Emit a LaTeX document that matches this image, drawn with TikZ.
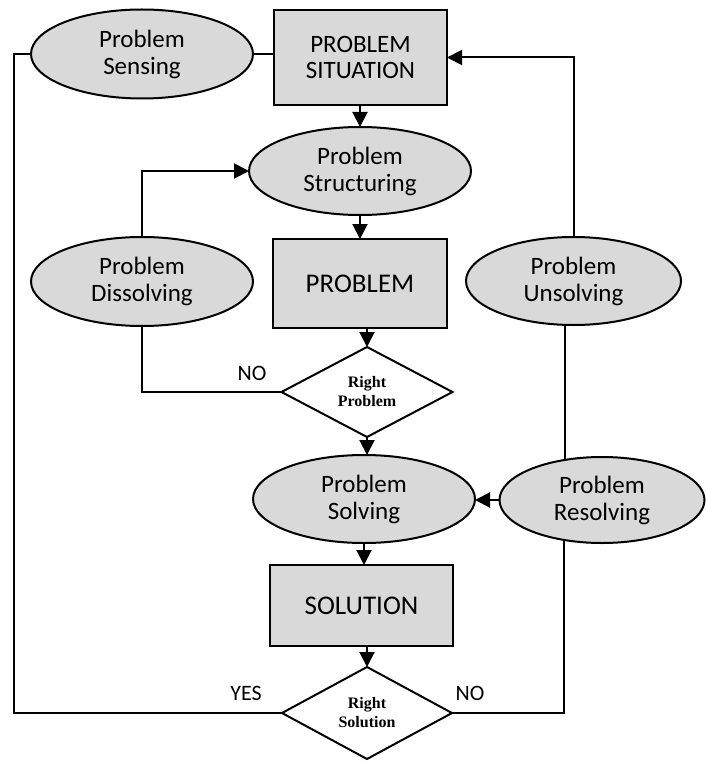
\documentclass[tikz,border=0pt]{standalone}
\usepackage{fontspec}
\setmainfont{Carlito}
\newfontfamily\diafont{Liberation Serif}
\usetikzlibrary{shapes.geometric,arrows.meta}
\definecolor{boxgray}{HTML}{D9D9D9}
\tikzset{
  every node/.style={inner sep=0pt, outer sep=0pt},
  procbox/.style={draw=black, line width=2.6pt, fill=boxgray, rectangle, align=center,
    font=\fontsize{25}{26}\selectfont},
  bigbox/.style={procbox, font=\fontsize{27}{28}\selectfont},
  oval/.style={draw=black, line width=2pt, fill=boxgray, ellipse, align=center,
    font=\fontsize{25}{27}\selectfont},
  decide/.style={draw=black, line width=2pt, fill=white, diamond, aspect=1.9, align=center,
    font=\diafont\bfseries\fontsize{16}{19}\selectfont},
  conn/.style={line width=2pt},
  arr/.style={conn, -{Triangle[length=15pt,width=15pt]}},
  lbl/.style={font=\fontsize{22}{24}\selectfont},
}
\begin{document}
\begin{tikzpicture}[x=1pt,y=-1pt]
\useasboundingbox (0,0) rectangle (705,762);
% nodes
\node[procbox, minimum width=173pt, minimum height=95pt] (sit) at (360.5,57.5) {PROBLEM\\SITUATION};
\node[oval, minimum width=222pt, minimum height=89pt] (sens) at (142,54) {Problem\\Sensing};
\node[oval, minimum width=222pt, minimum height=88pt] (struct) at (360,171) {Problem\\Structuring};
\node[bigbox, minimum width=174pt, minimum height=89pt] (prob) at (360,283.5) {PROBLEM};
\node[oval, minimum width=222pt, minimum height=89pt] (diss) at (142,281.5) {Problem\\Dissolving};
\node[oval, minimum width=215pt, minimum height=88pt] (unsolv) at (573.5,281) {Problem\\Unsolving};
\node[decide, minimum width=171pt, minimum height=90pt] (rp) at (367,392) {Right\\Problem};
\node[oval, minimum width=222pt, minimum height=88pt] (solv) at (364,499) {Problem\\Solving};
\node[oval, minimum width=205pt, minimum height=86pt] (resolv) at (602,500) {Problem\\Resolving};
\node[bigbox, minimum width=183pt, minimum height=81pt] (sol) at (361.5,605.5) {SOLUTION};
\node[decide, minimum width=170pt, minimum height=92pt] (rs) at (367,713) {Right\\Solution};
% labels
\node[lbl] (no1) at (252,373) {NO};
\node[lbl] (yes) at (246,693) {YES};
\node[lbl] (no2) at (470,693) {NO};
% connectors
\coordinate (lc) at (14,54);
\draw[conn] (sens.west) -- (lc) |- (rs.west);
\draw[conn] (sens.east) -- (sit.west |- sens.east);
\draw[arr] (unsolv.north) |- (sit.east);
\draw[arr] (struct.north |- sit.south) -- (struct.north);
\draw[arr] (struct.south) -- (prob.north);
\draw[arr] (rp.north |- prob.south) -- (rp.north);
\draw[arr] (diss.north) |- (struct.west);
\draw[conn] (rp.west) -| (diss.south);
\draw[arr] (rp.south) -- (rp.south |- solv.north);
\draw[arr] (resolv.west) -- (solv.east |- resolv.west);
\draw[arr] (solv.south) -- (solv.south |- sol.north);
\draw[arr] (rs.north |- sol.south) -- (rs.north);
\coordinate (rt) at (resolv.133);
\draw[conn] (rt |- unsolv.south) -- (rt);
\draw[conn] (resolv.226) |- (rs.east);
\end{tikzpicture}
\end{document}
